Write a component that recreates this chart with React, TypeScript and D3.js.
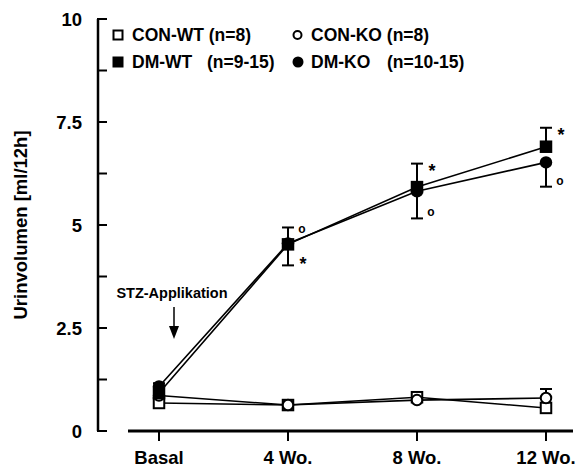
import React from 'react';
import * as d3 from 'd3';

// time points
const categories = ['Basal', '4 Wo.', '8 Wo.', '12 Wo.'];

// mean urine volume [ml/12h]
const conWT = [0.68, 0.63, 0.82, 0.56];
const conKO = [0.86, 0.63, 0.75, 0.8];
const dmWT = [0.92, 4.53, 5.92, 6.9];
const dmKO = [1.08, 4.55, 5.82, 6.52];

// SEM, drawn one-sided (+1 up, -1 down)
const conWTErr = [0.05, 0.05, 0.12, 0.1];
const conWTDir = [-1, -1, 1, -1];
const conKOErr = [0.05, 0.05, 0.05, 0.22];
const conKODir = [1, 1, -1, 1];
const dmWTErr = [0.1, 0.51, 0.57, 0.46];
const dmWTDir = [1, -1, 1, 1];
const dmKOErr = [0.08, 0.39, 0.66, 0.59];
const dmKODir = [1, 1, -1, -1];

// significance marks: [category index, value at cap, symbol]
const sigMarks: [number, number, string][] = [
  [1, 4.94, 'o'],
  [1, 4.02, '*'],
  [2, 6.49, '*'],
  [2, 5.16, 'o'],
  [3, 7.36, '*'],
  [3, 5.93, 'o'],
];

const yMajor = [0, 2.5, 5, 7.5, 10];
const yMinor = [0, 1.25, 2.5, 3.75, 5, 6.25, 7.5, 8.75, 10];

const W = 576;
const H = 468;
const font = '"Liberation Sans", Arial, sans-serif';

const x = d3.scalePoint<string>().domain(categories).range([159, 546]);
const y = d3.scaleLinear().domain([0, 10]).range([431, 19]);

const line = d3
  .line<number>()
  .x((_, i) => x(categories[i]) as number)
  .y((d) => y(d));

type Series = {
  name: string;
  values: number[];
  err: number[];
  dir: number[];
  shape: 'square' | 'circle';
  filled: boolean;
};

const series: Series[] = [
  { name: 'CON-WT', values: conWT, err: conWTErr, dir: conWTDir, shape: 'square', filled: false },
  { name: 'CON-KO', values: conKO, err: conKOErr, dir: conKODir, shape: 'circle', filled: false },
  { name: 'DM-KO', values: dmKO, err: dmKOErr, dir: dmKODir, shape: 'circle', filled: true },
  { name: 'DM-WT', values: dmWT, err: dmWTErr, dir: dmWTDir, shape: 'square', filled: true },
];

const Marker = ({ cx, cy, shape, filled, size }: { cx: number; cy: number; shape: string; filled: boolean; size: number }) => {
  const sw = filled ? 0 : 2;
  if (shape === 'square') {
    const s = size - sw;
    return (
      <rect x={cx - s / 2} y={cy - s / 2} width={s} height={s}
        fill={filled ? '#000' : '#fff'} stroke="#000" strokeWidth={sw} />
    );
  }
  return <circle cx={cx} cy={cy} r={(size - sw) / 2} fill={filled ? '#000' : '#fff'} stroke="#000" strokeWidth={sw} />;
};

export default function App() {
  const bx = x('Basal') as number;
  return (
    <svg width={W} height={H} style={{ position: 'absolute', left: 0, top: 0, background: '#fff' }}
      fontFamily={font} fontWeight="bold">
      {/* y axis */}
      <line x1={98} x2={98} y1={y(10)} y2={y(0)} stroke="#000" strokeWidth={2.5} />
      {yMinor.map((t) => (
        <line key={t} x1={97} x2={107} y1={y(t)} y2={y(t)} stroke="#000" strokeWidth={2} />
      ))}
      {yMajor.map((t) => (
        <text key={t} x={82} y={y(t)} dy="0.36em" textAnchor="end" fontSize={18.5}>
          {d3.format('~g')(t)}
        </text>
      ))}
      <text transform={`translate(27,${(y(0) + y(10)) / 2}) rotate(-90)`} textAnchor="middle" fontSize={18.5}>
        Urinvolumen [ml/12h]
      </text>

      {/* x axis */}
      <line x1={128} x2={573} y1={431} y2={431} stroke="#000" strokeWidth={3} />
      {categories.map((c) => (
        <g key={c}>
          <line x1={x(c)} x2={x(c)} y1={431} y2={441} stroke="#000" strokeWidth={2} />
          <text x={x(c)} y={464} textAnchor="middle" fontSize={18.5}>{c}</text>
        </g>
      ))}

      {/* STZ arrow */}
      <text x={bx + 13} y={298} textAnchor="middle" fontSize={14.5}>STZ-Applikation</text>
      <line x1={bx + 15} x2={bx + 15} y1={307} y2={327} stroke="#000" strokeWidth={1.5} />
      <path d={`M${bx + 10},326 L${bx + 20},326 L${bx + 15},339 Z`} fill="#000" />

      {/* lines */}
      {series.map((s) => (
        <path key={s.name} d={line(s.values) || ''} fill="none" stroke="#000" strokeWidth={1.6} />
      ))}

      {/* error bars */}
      {series.map((s) =>
        s.values.map((v, i) => {
          const cx = x(categories[i]) as number;
          const yEnd = y(v + s.dir[i] * s.err[i]);
          return (
            <g key={s.name + i}>
              <line x1={cx} x2={cx} y1={y(v)} y2={yEnd} stroke="#000" strokeWidth={2} />
              <line x1={cx - 6} x2={cx + 6} y1={yEnd} y2={yEnd} stroke="#000" strokeWidth={2} />
            </g>
          );
        })
      )}

      {/* markers */}
      {series.map((s) =>
        s.values.map((v, i) => (
          <Marker key={s.name + 'm' + i} cx={x(categories[i]) as number} cy={y(v)}
            shape={s.shape} filled={s.filled} size={12.5} />
        ))
      )}

      {/* significance */}
      {sigMarks.map(([i, v, sym], k) => {
        const cx = (x(categories[i]) as number) + 15;
        const isTop = v > dmWT[i] && v > dmKO[i];
        const cy = y(v) + (isTop ? 3 : -5);
        return sym === '*' ? (
          <text key={k} x={cx} y={cy + 10} textAnchor="middle" fontSize={18}>*</text>
        ) : (
          <text key={k} x={cx - 1} y={cy + 3} textAnchor="middle" fontSize={12}>o</text>
        );
      })}

      {/* legend */}
      <g fontSize={17.5}>
        <Marker cx={118} cy={35} shape="square" filled={false} size={11} />
        <text x={132} y={41}>CON-WT (n=8)</text>
        <Marker cx={297.5} cy={35} shape="circle" filled={false} size={10} />
        <text x={311} y={41}>CON-KO (n=8)</text>
        <Marker cx={118} cy={62} shape="square" filled size={11} />
        <text x={132} y={68}>DM-WT</text>
        <text x={207} y={68}>(n=9-15)</text>
        <Marker cx={298} cy={62} shape="circle" filled size={11} />
        <text x={311} y={68}>DM-KO</text>
        <text x={387} y={68}>(n=10-15)</text>
      </g>
    </svg>
  );
}
